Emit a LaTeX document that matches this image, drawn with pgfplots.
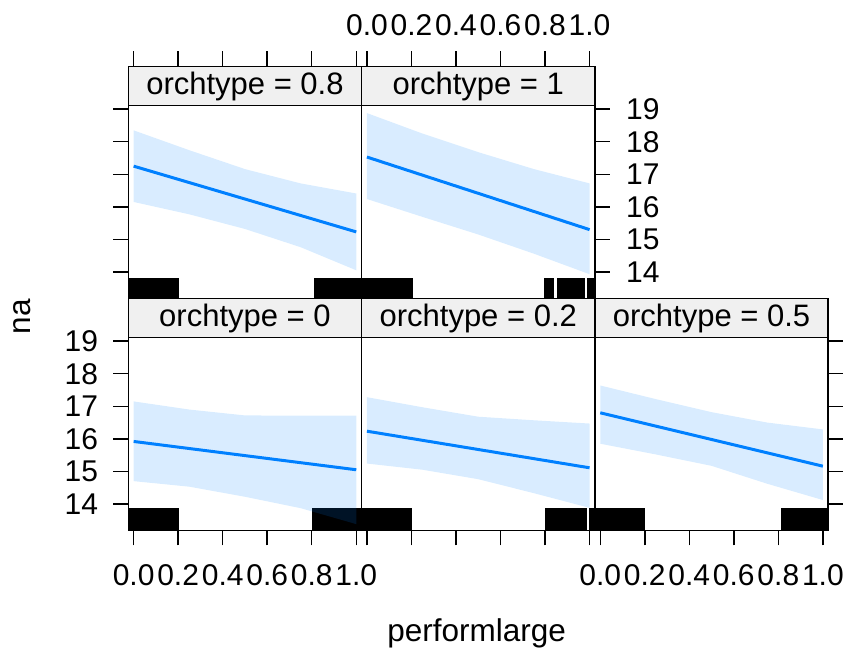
\documentclass[border=0pt]{standalone}
\usepackage{fontspec}
\setmainfont{Liberation Sans}
\usepackage{pgfplots}
\pgfplotsset{compat=1.18}
\definecolor{lineblue}{RGB}{0,128,255}
\definecolor{stripgray}{RGB}{240,240,240}
\newcommand{\tickfont}{\fontsize{30}{32}\selectfont}
\newcommand{\stripfont}{\fontsize{31}{33}\selectfont}
\newcommand{\labfont}{\fontsize{31.5}{34}\selectfont}
\pgfplotsset{
  panel/.style={
    scale only axis, width=233.3pt, height=232pt,
    xmin=-0.024, xmax=1.024, ymin=13.19, ymax=20.318,
    anchor=south west,
    axis on top,
    axis line style={line width=1.5pt, black},
    tick style={line width=1.5pt, black},
    tick align=outside, major tick length=15pt,
    xtick={0,0.2,0.4,0.6,0.8,1},
    ytick={14,15,16,17,18,19},
    xticklabels={0.0,0.2,0.4,0.6,0.8,1.0},
    yticklabels={14,15,16,17,18,19},
    ticklabel style={font=\tickfont, inner sep=0pt},
    /pgf/number format/assume math mode=true,
    minor tick num=0,
  },
  rug/.style={fill=black, draw=none, forget plot},
  band/.style={fill=lineblue, fill opacity=0.15, draw=none, forget plot},
  fit/.style={color=lineblue, line width=3pt, forget plot},
}
\newcommand{\strip}[1]{%
  \fill[stripgray] (axis cs:-0.024,19.12) rectangle (axis cs:1.024,20.318);
  \draw[line width=1.5pt, black] (axis cs:-0.024,19.12) -- (axis cs:1.024,19.12);
  \node[font=\stripfont, inner sep=0pt] at (axis cs:0.5,19.70) {orchtype = #1};
}
\begin{document}
\begin{tikzpicture}
\path[use as bounding box] (0pt,0pt) rectangle (843pt,650pt);

% ---------- bottom row: orchtype = 0 ----------
\begin{axis}[panel, at={(128.3pt,119.7pt)},
  xtick pos=lower, xticklabel pos=lower, xticklabel shift=19.5pt,
  ytick pos=left, yticklabel pos=left, yticklabel shift=15pt]
\addplot[rug] coordinates {(-0.1,13.86) (0.205,13.86)} \closedcycle;
\addplot[rug] coordinates {(0.80,13.86) (1.1,13.86)} \closedcycle;
\addplot[band] coordinates {(0,17.15) (0.25,16.90) (0.5,16.72) (0.75,16.71) (1,16.71)
  (1,13.38) (0.75,13.87) (0.5,14.22) (0.25,14.53) (0,14.70)} -- cycle;
\addplot[fit] coordinates {(0,15.92) (1,15.05)};
\strip{0}
\end{axis}

% ---------- bottom row: orchtype = 0.2 ----------
\begin{axis}[panel, at={(361.6pt,119.7pt)},
  xtick pos=lower, xticklabels={}, ytick=\empty]
\addplot[rug] coordinates {(-0.1,13.86) (0.203,13.86)} \closedcycle;
\addplot[rug] coordinates {(0.80,13.86) (0.988,13.86)} \closedcycle;
\addplot[rug] coordinates {(0.998,13.86) (1.1,13.86)} \closedcycle;
\addplot[band] coordinates {(0,17.28) (0.25,16.97) (0.5,16.68) (0.75,16.57) (1,16.47)
  (1,13.88) (0.75,14.33) (0.5,14.76) (0.25,15.05) (0,15.24)} -- cycle;
\addplot[fit] coordinates {(0,16.235) (1,15.11)};
\strip{0.2}
\end{axis}

% ---------- bottom row: orchtype = 0.5 ----------
\begin{axis}[panel, at={(594.9pt,119.7pt)},
  xtick pos=lower, xticklabel pos=lower, xticklabel shift=19.5pt,
  ytick pos=right, yticklabels={}]
\addplot[rug] coordinates {(-0.1,13.86) (0.202,13.86)} \closedcycle;
\addplot[rug] coordinates {(0.81,13.86) (1.1,13.86)} \closedcycle;
\addplot[band] coordinates {(0,17.64) (0.25,17.22) (0.5,16.82) (0.75,16.50) (1,16.29)
  (1,14.12) (0.75,14.62) (0.5,15.17) (0.25,15.52) (0,15.85)} -- cycle;
\addplot[fit] coordinates {(0,16.80) (1,15.16)};
\strip{0.5}
\end{axis}

% ---------- top row: orchtype = 0.8 ----------
\begin{axis}[panel, at={(128.3pt,351.7pt)},
  xtick pos=upper, xticklabels={},
  ytick pos=left, yticklabels={}]
\addplot[rug] coordinates {(-0.1,13.82) (0.205,13.82)} \closedcycle;
\addplot[rug] coordinates {(0.809,13.82) (1.1,13.82)} \closedcycle;
\addplot[band] coordinates {(0,18.35) (0.25,17.74) (0.5,17.16) (0.75,16.72) (1,16.41)
  (1,14.05) (0.75,14.76) (0.5,15.32) (0.25,15.77) (0,16.15)} -- cycle;
\addplot[fit] coordinates {(0,17.25) (1,15.23)};
\strip{0.8}
\end{axis}

% ---------- top row: orchtype = 1 ----------
\begin{axis}[panel, at={(361.6pt,351.7pt)},
  xtick pos=upper, xticklabel pos=upper, xticklabel shift=15pt,
  ytick pos=right, yticklabel pos=right, yticklabel shift=16pt]
\addplot[rug] coordinates {(-0.1,13.82) (0.205,13.82)} \closedcycle;
\addplot[rug] coordinates {(0.797,13.82) (0.84,13.82)} \closedcycle;
\addplot[rug] coordinates {(0.852,13.82) (0.98,13.82)} \closedcycle;
\addplot[rug] coordinates {(0.99,13.82) (1.1,13.82)} \closedcycle;
\addplot[band] coordinates {(0,18.88) (0.25,18.25) (0.5,17.68) (0.75,17.16) (1,16.72)
  (1,13.93) (0.75,14.56) (0.5,15.15) (0.25,15.69) (0,16.24)} -- cycle;
\addplot[fit] coordinates {(0,17.53) (1,15.30)};
\strip{1}
\end{axis}

\node[font=\labfont, rotate=90, inner sep=0pt] at (21.7pt,333.5pt) {na};
\node[font=\labfont, anchor=base, inner sep=0pt] at (476.7pt,8.3pt) {performlarge};
\end{tikzpicture}
\end{document}
